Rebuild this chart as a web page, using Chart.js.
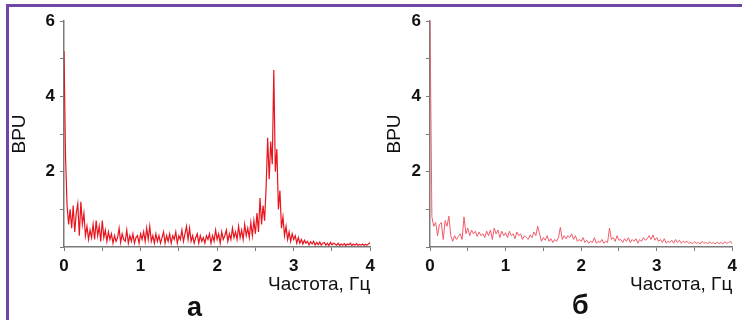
<!DOCTYPE html>
<html>
<head>
<meta charset="utf-8">
<script src="https://cdn.jsdelivr.net/npm/chart.js@4.4.1/dist/chart.umd.min.js"></script>
<style>
    body { margin: 0; width: 742px; height: 320px; overflow: hidden; background: #fff; position: relative;
           font-family: 'Liberation Sans Narrow', 'Liberation Sans', Arial, sans-serif; }
    .frame { position: absolute; left: 6px; top: 4px; width: 800px; height: 400px;
             border-left: 3px solid #7046a6; border-top: 3px solid #7046a6; }
    canvas { position: absolute; top: 0; }
    #chartA { left: 0; }
    #chartB { left: 375px; }
    .letter { position: absolute; font-weight: bold; font-size: 27px; line-height: 30px; color: #111; }
</style>
</head>
<body>
<div class="frame"></div>
<canvas id="chartA" width="380" height="320"></canvas>
<canvas id="chartB" width="367" height="320"></canvas>
<div class="letter" style="left:187px; top:292px;">а</div>
<div class="letter" style="left:572px; top:290px;">б</div>
<script>
// Spectrum data
const FREQ_STEP_A = 0.02;   // Hz between points, panel а
const FREQ_STEP_B = 0.025;  // Hz between points, panel б

const bpuA = [
    5.2, 2.4, 1.1, 0.6, 1.0, 0.5, 1.1, 0.4, 0.9, 1.15,
    0.3, 1.2, 0.6, 0.9, 0.3, 0.55, 0.2, 0.45, 0.25, 0.6,
    0.2, 0.7, 0.3, 0.55, 0.15, 0.7, 0.25, 0.45, 0.15, 0.4,
    0.2, 0.35, 0.1, 0.3, 0.15, 0.25, 0.5, 0.12, 0.35, 0.2,
    0.15, 0.45, 0.1, 0.3, 0.15, 0.35, 0.1, 0.25, 0.3, 0.1,
    0.35, 0.2, 0.4, 0.15, 0.5, 0.2, 0.55, 0.15, 0.3, 0.1,
    0.35, 0.15, 0.3, 0.1, 0.25, 0.4, 0.1, 0.3, 0.15, 0.35,
    0.1, 0.3, 0.2, 0.4, 0.1, 0.3, 0.2, 0.45, 0.15, 0.35,
    0.55, 0.2, 0.5, 0.15, 0.3, 0.1, 0.25, 0.35, 0.1, 0.3,
    0.15, 0.25, 0.1, 0.3, 0.2, 0.35, 0.1, 0.3, 0.15, 0.45,
    0.2, 0.35, 0.1, 0.4, 0.2, 0.3, 0.45, 0.15, 0.35, 0.2,
    0.5, 0.25, 0.4, 0.2, 0.55, 0.25, 0.45, 0.2, 0.6, 0.3,
    0.5, 0.25, 0.65, 0.3, 0.7, 0.35, 0.9, 0.4, 1.3, 0.6,
    1.1, 0.7, 1.6, 2.9, 1.8, 2.8, 2.2, 4.7, 2.0, 2.6,
    1.0, 1.5, 0.5, 0.8, 0.3, 0.55, 0.2, 0.4, 0.15, 0.35,
    0.2, 0.3, 0.1, 0.25, 0.1, 0.2, 0.08, 0.18, 0.1, 0.15,
    0.06, 0.14, 0.08, 0.15, 0.05, 0.12, 0.06, 0.13, 0.05, 0.1,
    0.12, 0.05, 0.1, 0.04, 0.12, 0.06, 0.1, 0.08, 0.05, 0.1,
    0.04, 0.08, 0.05, 0.09, 0.04, 0.08, 0.06, 0.1, 0.04, 0.08,
    0.05, 0.09, 0.04, 0.07, 0.05, 0.08, 0.04, 0.07, 0.05, 0.09,
    0.12
];

const bpuB = [
    6.0, 0.8, 0.55, 0.65, 0.3, 0.6, 0.65, 0.2, 0.7, 0.55,
    0.82, 0.3, 0.15, 0.3, 0.2, 0.28, 0.35, 0.2, 0.8, 0.35,
    0.5, 0.3, 0.45, 0.35, 0.42, 0.28, 0.4, 0.3, 0.35, 0.25,
    0.42, 0.3, 0.45, 0.2, 0.5, 0.35, 0.45, 0.25, 0.42, 0.3,
    0.38, 0.25, 0.42, 0.3, 0.35, 0.22, 0.4, 0.3, 0.35, 0.2,
    0.3, 0.25, 0.2, 0.32, 0.25, 0.4, 0.3, 0.55, 0.35, 0.15,
    0.25, 0.18, 0.3, 0.15, 0.22, 0.12, 0.2, 0.15, 0.25, 0.52,
    0.2, 0.3, 0.22, 0.3, 0.25, 0.35, 0.2, 0.3, 0.15, 0.2,
    0.15, 0.25, 0.12, 0.18, 0.1, 0.15, 0.12, 0.25, 0.1, 0.15,
    0.12, 0.2, 0.1, 0.15, 0.12, 0.5, 0.2, 0.25, 0.15, 0.3,
    0.18, 0.2, 0.12, 0.22, 0.15, 0.25, 0.12, 0.2, 0.15, 0.22,
    0.1, 0.2, 0.15, 0.25, 0.18, 0.22, 0.3, 0.2, 0.32, 0.18,
    0.25, 0.15, 0.2, 0.12, 0.22, 0.1, 0.15, 0.12, 0.18, 0.1,
    0.2, 0.12, 0.18, 0.1, 0.15, 0.12, 0.15, 0.1, 0.12, 0.09,
    0.14, 0.1, 0.12, 0.08, 0.15, 0.1, 0.12, 0.08, 0.14, 0.09,
    0.12, 0.08, 0.13, 0.09, 0.12, 0.08, 0.14, 0.1, 0.12, 0.15,
    0.08
];

const xTickLabels = ['0', '1', '2', '3', '4'];
const yTickLabels = ['2', '4', '6'];

const FONT = "'Liberation Sans Narrow', 'Liberation Sans', Arial, sans-serif";
const AXIS_COLOR = '#7a7a7a';

function toPoints(values, step) {
    return values.map((v, i) => ({ x: +(i * step).toFixed(3), y: v }));
}

function createSpectrumChart(canvasId, values, step, opts) {
    const ctx = document.getElementById(canvasId)?.getContext('2d');
    if (!ctx) return null;

    return new Chart(ctx, {
        type: 'line',
        data: {
            datasets: [{
                data: toPoints(values, step),
                borderColor: opts.color,
                borderWidth: opts.lineWidth,
                pointRadius: 0,
                tension: 0,
                fill: false
            }]
        },
        options: {
            responsive: false,
            animation: false,
            layout: {
                padding: { left: 0, right: opts.padRight, top: 21, bottom: 0 }
            },
            plugins: {
                legend: { display: false },
                tooltip: { enabled: false }
            },
            scales: {
                x: {
                    type: 'linear',
                    min: 0,
                    max: 4,
                    afterFit: scale => { scale.height = 73; },
                    border: { color: AXIS_COLOR, width: 1.5 },
                    grid: { drawOnChartArea: false, drawTicks: true, tickLength: 4, color: AXIS_COLOR },
                    ticks: {
                        stepSize: 0.5,
                        padding: 5,
                        maxRotation: 0,
                        autoSkip: false,
                        color: '#111',
                        font: { family: FONT, size: 17, weight: 'bold' },
                        callback: value => {
                            const label = String(value);
                            return xTickLabels.includes(label) ? label : '';
                        }
                    },
                    title: {
                        display: true,
                        text: 'Частота, Гц',
                        align: 'end',
                        color: '#111',
                        font: { family: FONT, size: 19 },
                        padding: { top: 0, bottom: 24 }
                    }
                },
                y: {
                    type: 'linear',
                    min: 0,
                    max: 6,
                    afterFit: scale => { scale.width = opts.axisWidth; },
                    border: { color: AXIS_COLOR, width: 1.5 },
                    grid: { drawOnChartArea: false, drawTicks: true, tickLength: 4, color: AXIS_COLOR },
                    ticks: {
                        stepSize: 1,
                        padding: 5,
                        color: '#111',
                        font: { family: FONT, size: 17, weight: 'bold' },
                        callback: value => {
                            const label = String(value);
                            return yTickLabels.includes(label) ? label : '';
                        }
                    },
                    title: {
                        display: true,
                        text: 'BPU',
                        color: '#111',
                        font: { family: FONT, size: 19 },
                        padding: { top: opts.titlePad, bottom: 0 }
                    }
                }
            }
        }
    });
}

createSpectrumChart('chartA', bpuA, FREQ_STEP_A, {
    color: '#e8141e', lineWidth: 1.2, padRight: 8, axisWidth: 64, titlePad: 8
});
createSpectrumChart('chartB', bpuB, FREQ_STEP_B, {
    color: '#f25b6a', lineWidth: 1, padRight: 5, axisWidth: 55, titlePad: 8
});
</script>
</body>
</html>
